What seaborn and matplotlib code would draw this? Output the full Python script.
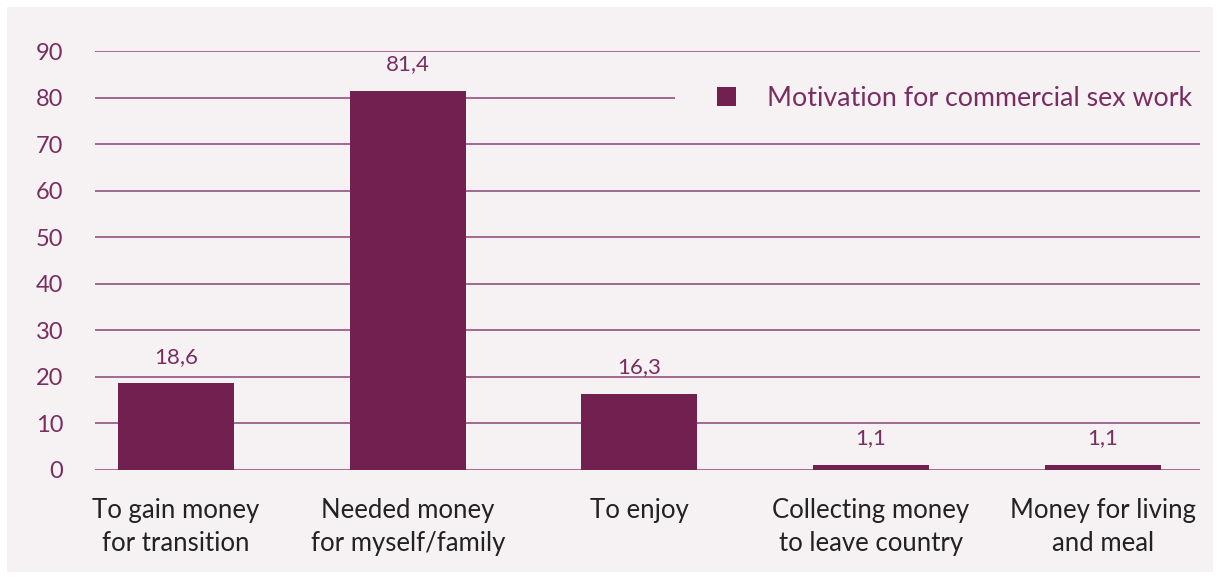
import matplotlib
matplotlib.use("Agg")
import matplotlib.pyplot as plt
import matplotlib.patches as mpatches
import seaborn as sns
import pandas as pd

categories = [
    "To gain money\nfor transition",
    "Needed money\nfor myself/family",
    "To enjoy",
    "Collecting money\nto leave country",
    "Money for living\nand meal",
]
values = [18.6, 81.4, 16.3, 1.1, 1.1]
series_name = "Motivation for commercial sex work"
y_ticks = [0, 10, 20, 30, 40, 50, 60, 70, 80, 90]

BAR = "#722050"
GRID = "#8c4477"
TICK = "#7a2d60"
PANEL = "#f6f2f4"

sns.set_theme(style="white")
plt.rcParams["font.family"] = ["Lato", "DejaVu Sans"]

df = pd.DataFrame({"category": categories, "value": values})

W, H = 1220, 579
fig = plt.figure(figsize=(W / 100, H / 100), dpi=100)
fig.patch.set_facecolor("white")
# light panel behind the chart
fig.patches.append(mpatches.Rectangle((7 / W, 7 / H), 1206 / W, 565 / H,
                                      transform=fig.transFigure, facecolor=PANEL,
                                      edgecolor="none", zorder=-10))

x0, x1, ytop, ybot = 95, 1200, 51, 470
ax = fig.add_axes([x0 / W, (H - ybot) / H, (x1 - x0) / W, (ybot - ytop) / H])
ax.set_zorder(1)
ax.patch.set_alpha(0)

sns.barplot(data=df, x="category", y="value", color=BAR, saturation=1,
            width=0.5, linewidth=0, edgecolor="none", ax=ax, zorder=3)

ax.set_ylim(0, 90)
ax.set_xlim(-0.35, 4.42)
ax.set_yticks(y_ticks)
ax.yaxis.grid(True, color=GRID, linewidth=1.1)
ax.set_axisbelow(True)
for s in ax.spines.values():
    s.set_visible(False)

ax.tick_params(axis="y", length=0, pad=23, labelsize=17, labelcolor=TICK)
ax.tick_params(axis="x", length=0, pad=20, labelsize=18.5, labelcolor="#222222")
for lbl in ax.get_xticklabels():
    lbl.set_linespacing(1.4)
ax.set_xlabel("")
ax.set_ylabel("")

for i, v in enumerate(values):
    ax.annotate(f"{v:.1f}".replace(".", ","), (i, v), xytext=(0, 12),
                textcoords="offset points", ha="center", va="bottom",
                fontsize=16, color=TICK)

# blank strip behind the legend, hiding the gridline it sits on
ax.add_patch(mpatches.Rectangle(((675 - x0) / (x1 - x0), (ybot - 115) / (ybot - ytop)),
                                (x1 - 675) / (x1 - x0), 35 / (ybot - ytop),
                                transform=ax.transAxes, facecolor=PANEL,
                                edgecolor="none", zorder=1, clip_on=False))

handle = mpatches.Patch(facecolor=BAR, edgecolor="none", label=series_name)
leg = ax.legend(handles=[handle], loc="center left",
                bbox_to_anchor=((717 - x0) / (x1 - x0), (ybot - 98) / (ybot - ytop)),
                frameon=False, fontsize=19.3, handlelength=0.72, handleheight=0.72,
                handletextpad=1.15, borderpad=0, borderaxespad=0)
leg.set_zorder(5)
for t in leg.get_texts():
    t.set_color(TICK)

fig.savefig("out.png", dpi=100, facecolor=fig.get_facecolor())
